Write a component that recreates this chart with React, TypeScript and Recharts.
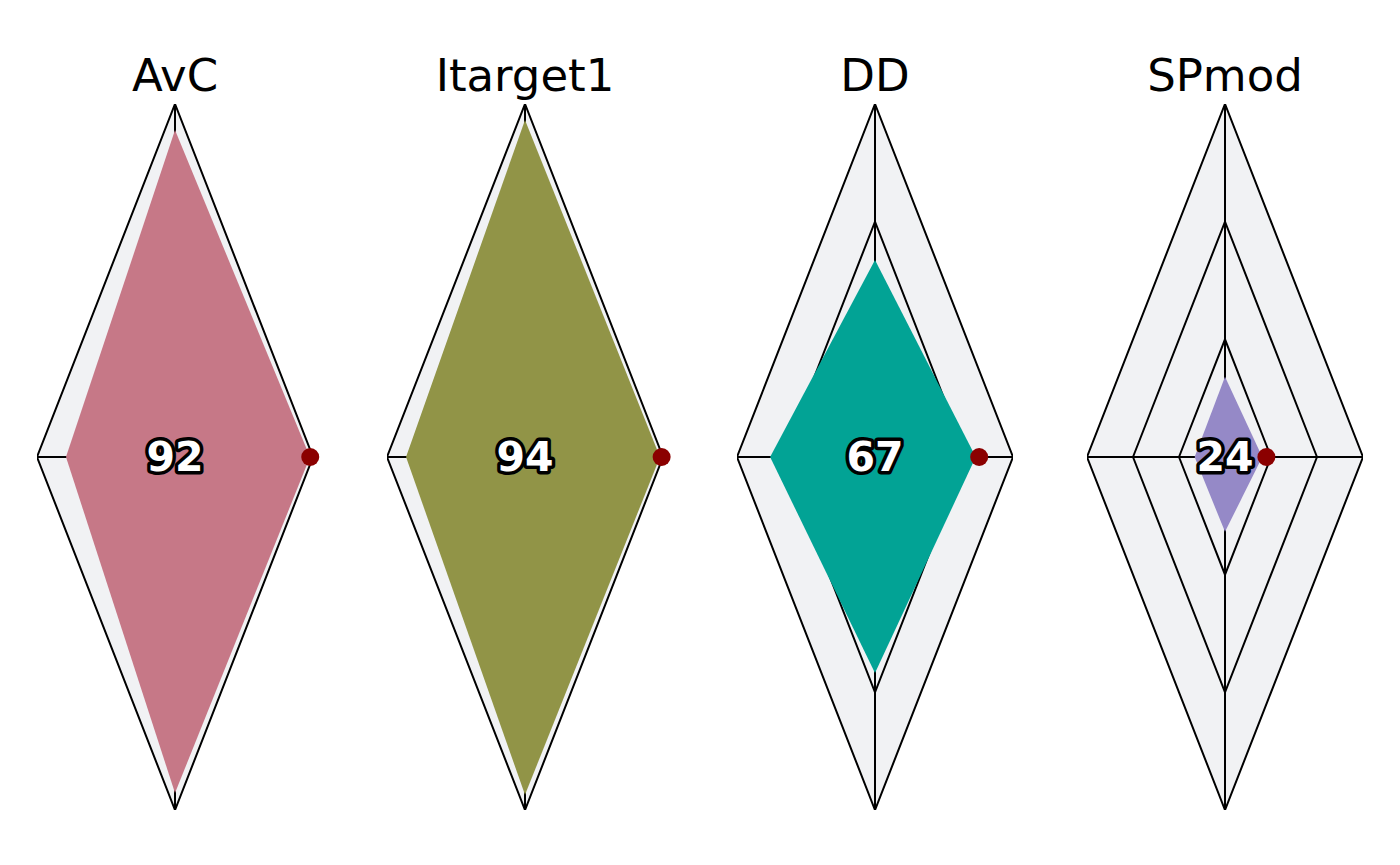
import { ComposedChart, Area, XAxis, YAxis, ReferenceLine, ReferenceDot } from "recharts";

// one diamond per metric; axes are top, right, bottom, left (0..1)
const metrics = ["AvC", "Itarget1", "DD", "SPmod"];
const scores = [92, 94, 67, 24];
const axisTop = [0.926, 0.955, 0.558, 0.227];
const axisRight = [0.978, 0.978, 0.73, 0.27];
const axisBottom = [0.952, 0.957, 0.612, 0.212];
const axisLeft = [0.79, 0.862, 0.76, 0.22];
const markers = [0.98, 0.99, 0.755, 0.3];
const colors = ["#C67887", "#919447", "#02A395", "#9589C7"];
const rings = [1, 2 / 3, 1 / 3];

const ringData = (k: number) => [
  { x: -k, r: [0, 0] },
  { x: 0, r: [-k, k] },
  { x: k, r: [0, 0] },
];

const valueData = (i: number) => [
  { x: -axisLeft[i], r: [0, 0] },
  { x: 0, r: [-axisBottom[i], axisTop[i]] },
  { x: axisRight[i], r: [0, 0] },
];

const FONT = "DejaVu Sans";

function Diamond({ i }: { i: number }) {
  return (
    <ComposedChart width={350} height={865} margin={{ top: 104, bottom: 55, left: 37, right: 37 }}>
      <XAxis type="number" dataKey="x" domain={[-1, 1]} hide allowDataOverflow />
      <YAxis type="number" domain={[-1, 1]} hide allowDataOverflow />
      {rings.map((k) => (
        <Area
          key={k}
          data={ringData(k)}
          dataKey="r"
          type="linear"
          fill="#F1F2F4"
          fillOpacity={1}
          stroke="#000"
          strokeWidth={2}
          isAnimationActive={false}
          dot={false}
          activeDot={false}
          zIndex={0}
        />
      ))}
      <ReferenceLine segment={[{ x: 0, y: -1 }, { x: 0, y: 1 }]} stroke="#000" strokeWidth={2} zIndex={50} />
      <ReferenceLine segment={[{ x: -1, y: 0 }, { x: 1, y: 0 }]} stroke="#000" strokeWidth={2} zIndex={50} />
      <Area
        data={valueData(i)}
        dataKey="r"
        type="linear"
        fill={colors[i]}
        fillOpacity={1}
        stroke="none"
        isAnimationActive={false}
        dot={false}
        activeDot={false}
        zIndex={100}
      />
      <ReferenceDot x={markers[i]} y={0} r={9} fill="#8B0000" stroke="none" zIndex={200} />
      <ReferenceDot
        x={0}
        y={0}
        r={1}
        fill="none"
        stroke="none"
        zIndex={300}
        label={{
          content: ({ viewBox }: any) => (
            <text
              x={viewBox.x + viewBox.width / 2}
              y={viewBox.y + viewBox.height / 2 + 14}
              textAnchor="middle"
              fontFamily={FONT}
              fontWeight="bold"
              fontSize={41}
              fill="#fff"
              stroke="#000"
              strokeWidth={7}
              strokeLinejoin="round"
              paintOrder="stroke"
            >
              {scores[i]}
            </text>
          ),
        }}
      />
      <ReferenceDot
        x={0}
        y={1}
        r={1}
        fill="none"
        stroke="none"
        zIndex={300}
        label={{
          content: ({ viewBox }: any) => (
            <text
              x={viewBox.x + viewBox.width / 2}
              y={viewBox.y - 12}
              textAnchor="middle"
              fontFamily={FONT}
              fontSize={45}
              fill="#000"
            >
              {metrics[i]}
            </text>
          ),
        }}
      />
    </ComposedChart>
  );
}

export default function App() {
  return (
    <div style={{ position: "absolute", left: 0, top: 0, width: 1400, height: 865, background: "#fff" }}>
      {metrics.map((m, i) => (
        <div key={m} style={{ position: "absolute", left: i * 350, top: 0 }}>
          <Diamond i={i} />
        </div>
      ))}
    </div>
  );
}
